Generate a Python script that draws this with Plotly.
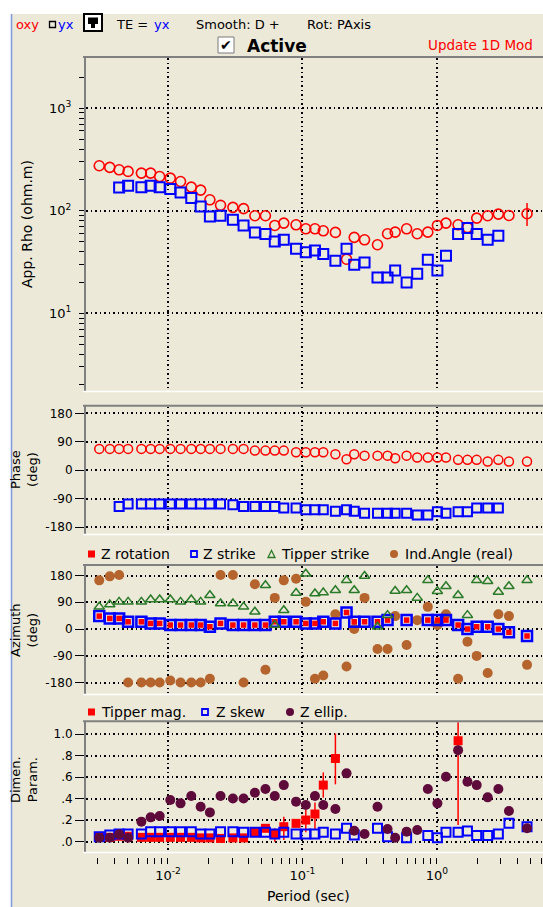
import plotly.graph_objects as go

# ---------------- data ----------------
periods = [0.00308, 0.00369, 0.00433, 0.00505, 0.00634, 0.00743, 0.00867, 0.0104, 0.0124, 0.0149,
           0.0175, 0.0205, 0.0246, 0.0304, 0.0365, 0.0443, 0.0531, 0.0623, 0.0727, 0.0897,
           0.106, 0.124, 0.143, 0.176, 0.213, 0.243, 0.290, 0.362, 0.430, 0.490,
           0.596, 0.715, 0.857, 1.01, 1.17, 1.44, 1.69, 1.98, 2.39, 2.87, 3.44, 4.69]

rho_xy = [275, 265, 251, 242, 233, 233, 216, 208, 193, 170, 159, 128, 113, 108, 105, 89.4, 89.4,
          71.9, 75.8, 73.0, 66.7, 66.7, 63.8, 61.5, 33.7, 55.0, 52.1, 46.6, 59.7, 61.9, 66.7,
          59.7, 61.9, 71.9, 75.8, 73.0, 68.7, 84.8, 89.4, 92.8, 90.0, 93.5]
rho_xy_err_plus = [0] * 41 + [25.5]
rho_xy_err_minus = [0] * 41 + [22.5]
rho_yx = [None, None, 169, 175, 170, 175, 170, 163, 151, 133, 110, 88.1, 89.4, 81.6, 71.9, 61.5,
          59.2, 50.2, 52.1, 42.6, 39.5, 41.0, 37.8, 32.5, 42.6, 29.7, 31.3, 22.4, 22.4, 26.2,
          20.0, 24.3, 33.3, 26.2, 36.4, 59.2, 67.8, 59.2, 52.1, 57.0, None, None]

phase_xy = [67.4, 67.4, 67.4, 67.4, 67.4, 67.4, 67.4, 67.4, 67.4, 67.4, 67.4, 67.4, 67.4, 67.4,
            67.4, 62.0, 62.0, 62.0, 62.0, 57.0, 57.0, 57.0, 57.0, 50.5, 34.7, 50.5, 46.0, 46.0,
            46.0, 37.9, 46.0, 40.0, 40.0, 40.0, 40.0, 32.6, 32.6, 32.6, 27.4, 32.6, 27.4, 27.4]
phase_yx = [None, None, -114.7, -107.4, -107.4, -107.4, -107.4, -107.4, -107.4, -107.4, -107.4,
            -107.4, -107.4, -109.5, -114.7, -114.7, -114.7, -114.7, -120.0, -120.0, -125.3,
            -125.3, -125.3, -130.5, -125.3, -130.5, -136.8, -136.8, -136.8, -136.8, -136.8,
            -142.1, -142.1, -131.6, -136.8, -131.6, -131.6, -120.0, -120.0, -120.0, None, None]

z_rotation = [43.5, 35.7, 35.7, 24.5, 24.5, 18.9, 18.9, 13.4, 13.4, 13.4, 13.4, 7.8, 18.9, 13.4,
              13.4, 13.4, 13.4, 24.5, 24.5, 24.5, 18.9, 18.9, 24.5, 18.9, 55.7, 24.5, 24.5, 24.5,
              30.1, None, 30.1, None, 30.1, 30.1, 30.1, 13.4, 0.0, 7.8, 7.8, 0.0, -11.1, -23.4]
z_strike = [43.5, 35.7, 35.7, 24.5, 24.5, 18.9, 18.9, 13.4, 13.4, 13.4, 13.4, 7.8, 18.9, 13.4,
            13.4, 13.4, 13.4, 24.5, 24.5, 24.5, 18.9, 18.9, 24.5, 18.9, 55.7, 24.5, 24.5, 24.5,
            30.1, None, 30.1, None, 30.1, 30.1, 30.1, 13.4, 0.0, 7.8, 7.8, 0.0, -11.1, -23.4]
tipper_strike = [74.7, 82.5, 91.4, 91.4, 91.4, 99.2, 99.2, 99.2, 91.4, 99.2, 91.4, 113.7, 85.8,
                 85.8, 74.7, 58.0, 147.0, 13.4, 63.5, 121.5, 186.0, 119.3, 122.6, 130.4, 163.8,
                 130.4, 178.3, 7.8, 46.8, 128.2, 130.4, 104.8, 163.8, 127.0, 143.8, 113.7, 46.8,
                 163.8, 160.5, 124.8, 143.8, 163.8]
ind_angle = [163.8, 177.2, 182.0, -179.5, -179.5, -179.5, -179.5, -172.8, -179.5, -179.5, -179.5,
             -167.0, 182.0, 182.0, -179.5, 150.5, -137.0, 104.8, 163.8, 169.4, 91.4, -167.0,
             -156.0, 50.0, -126.0, 0.0, 104.8, -66.9, -66.9, 43.5, -53.5, 30.0, 74.7, 13.4, 50.0,
             -167.0, -42.4, -90.3, -148.0, 50.0, 43.5, -120.4]

tipper_mag = [0.04, 0.04, 0.05, 0.05, 0.04, 0.04, 0.04, 0.04, 0.04, 0.04, 0.035, 0.035, 0.03,
              0.035, 0.035, 0.093, 0.124, 0.068, 0.139, 0.170, 0.201, 0.257, 0.526, 0.774,
              None, None, None, None, None, None, None, None, None, None, None, 0.938,
              None, None, None, None, None, None]
tipper_err_plus = [0] * 17 + [0.056, 0.093, 0, 0.093, 0.108, 0.118, 0.232] + [0] * 11 + [0.25] + [0] * 6
tipper_err_minus = [0] * 17 + [0.068, 0.124, 0, 0.114, 0.149, 0.117, 0.241] + [0] * 11 + [0.783] + [0] * 6
z_skew = [0.046, 0.062, 0.071, 0.071, 0.071, 0.093, 0.093, 0.093, 0.093, 0.093, 0.071, 0.071,
          0.093, 0.093, 0.087, 0.087, 0.087, 0.071, 0.087, 0.071, 0.071, 0.071, 0.087, 0.071,
          0.124, 0.062, None, 0.124, 0.046, None, 0.037, None, 0.056, 0.037, 0.087, 0.087,
          0.099, 0.056, 0.056, 0.071, 0.170, 0.139]
z_ellip = [0.037, 0.037, 0.068, 0.037, 0.186, 0.226, 0.238, 0.387, 0.356, 0.424, 0.325, 0.272,
           0.424, 0.402, 0.402, 0.455, 0.489, 0.424, 0.526, 0.372, 0.341, 0.424, 0.341, 0.303,
           0.635, 0.102, 0.071, 0.325, 0.118, 0.037, 0.093, 0.108, 0.489, 0.356, 0.604, 0.851,
           0.557, 0.526, 0.412, 0.489, 0.285, 0.124]

x_major = [0.01, 0.1, 1]
x_major_text = ['10<sup>-2</sup>', '10<sup>-1</sup>', '10<sup>0</sup>']
rho_major = [10, 100, 1000]
rho_major_text = ['10<sup>1</sup>', '10<sup>2</sup>', '10<sup>3</sup>']
angle_ticks = [-180, -90, 0, 90, 180]
angle_text = ['-180', '-90', '0', '90', '180']
dim_ticks = [0, 0.2, 0.4, 0.6, 0.8, 1.0]
dim_text = ['.0', '.2', '.4', '.6', '.8', '1.0']

# ---------------- layout helpers ----------------
W, H = 543, 907
FONT = "DejaVu Sans"
RED, BLUE, GREEN, BROWN, PURPLE = '#FF0000', '#0000FF', '#2A7A2A', '#B4642C', '#5E0B3B'
BEIGE = '#ECE9D8'
DOT = '1.5px,3px'


def fx(x):
    return x / W


def fy(y):
    return 1 - y / H


XL = 86
X_RANGE = [-2.61, 0.79]
P1, P2, P3, P4 = (58, 390), (406.7, 533), (566, 693), (722.3, 851)

x_minor = [m * 10 ** e for e in (-3, -2, -1, 0) for m in range(2, 10) if 0.0025 < m * 10 ** e < 6.1]
rho_minor = [m * 10 ** e for e in (0, 1, 2, 3) for m in range(2, 10) if 1.8 < m * 10 ** e < 3000]

fig = go.Figure()

# panel 1
fig.add_trace(go.Scatter(x=periods, y=rho_xy, mode='markers', xaxis='x', yaxis='y',
                         marker=dict(symbol='circle-open', size=10, color=RED, line=dict(width=1.6, color=RED)),
                         error_y=dict(type='data', symmetric=False, array=rho_xy_err_plus,
                                      arrayminus=rho_xy_err_minus, color=RED, thickness=1.5, width=0)))
fig.add_trace(go.Scatter(x=periods, y=rho_yx, mode='markers', xaxis='x', yaxis='y',
                         marker=dict(symbol='square-open', size=10, color=BLUE, line=dict(width=2, color=BLUE))))
# panel 2
fig.add_trace(go.Scatter(x=periods, y=phase_xy, mode='markers', xaxis='x2', yaxis='y2',
                         marker=dict(symbol='circle-open', size=9, color=RED, line=dict(width=1.5, color=RED))))
fig.add_trace(go.Scatter(x=periods, y=phase_yx, mode='markers', xaxis='x2', yaxis='y2',
                         marker=dict(symbol='square-open', size=9, color=BLUE, line=dict(width=2, color=BLUE))))
# panel 3
fig.add_trace(go.Scatter(x=periods, y=ind_angle, mode='markers', xaxis='x3', yaxis='y3',
                         marker=dict(symbol='circle', size=10, color=BROWN)))
fig.add_trace(go.Scatter(x=periods, y=z_strike, mode='markers', xaxis='x3', yaxis='y3',
                         marker=dict(symbol='square-open', size=10, color=BLUE, line=dict(width=2.5, color=BLUE))))
fig.add_trace(go.Scatter(x=periods, y=z_rotation, mode='markers', xaxis='x3', yaxis='y3',
                         marker=dict(symbol='square', size=5.5, color=RED)))
fig.add_trace(go.Scatter(x=periods, y=tipper_strike, mode='markers', xaxis='x3', yaxis='y3',
                         marker=dict(symbol='triangle-up-open', size=9, color=GREEN, line=dict(width=1.5, color=GREEN))))
# panel 4
fig.add_trace(go.Scatter(x=periods, y=tipper_mag, mode='markers', xaxis='x4', yaxis='y4',
                         marker=dict(symbol='square', size=9, color=RED),
                         error_y=dict(type='data', symmetric=False, array=tipper_err_plus,
                                      arrayminus=tipper_err_minus, color=RED, thickness=1.5, width=0)))
fig.add_trace(go.Scatter(x=periods, y=z_skew, mode='markers', xaxis='x4', yaxis='y4',
                         marker=dict(symbol='square-open', size=9, color=BLUE, line=dict(width=2, color=BLUE))))
fig.add_trace(go.Scatter(x=periods, y=z_ellip, mode='markers', xaxis='x4', yaxis='y4',
                         marker=dict(symbol='circle', size=10, color=PURPLE)))
# carrier for the period tick axis
fig.add_trace(go.Scatter(x=[periods[0]], y=[None], mode='markers', xaxis='x5', yaxis='y4',
                         hoverinfo='skip'))

grid = dict(showgrid=True, gridcolor='black', gridwidth=1.5, griddash=DOT, zeroline=False, showline=False)
xcommon = dict(type='log', range=X_RANGE, domain=[fx(XL), 1], tickvals=x_major,
               showticklabels=False, ticks='', **grid)
tickfont = dict(family=FONT, size=12, color='black')

fig.update_layout(
    width=W, height=H, autosize=False, showlegend=False,
    margin=dict(l=0, r=0, t=0, b=0),
    paper_bgcolor='white', plot_bgcolor='white',
    font=dict(family=FONT, size=13, color='black'),
    xaxis=dict(anchor='y', **xcommon),
    xaxis2=dict(anchor='y2', **xcommon),
    xaxis3=dict(anchor='y3', **xcommon),
    xaxis4=dict(anchor='y4', **xcommon),
    xaxis5=dict(type='log', range=X_RANGE, domain=[fx(XL), 1], overlaying='x4', anchor='free',
                position=fy(857), side='bottom', tickmode='array', tickvals=x_major, ticktext=x_major_text,
                ticks='outside', ticklen=6, tickwidth=1, tickcolor='black', showgrid=False,
                showline=False, zeroline=False, tickfont=dict(family=FONT, size=13, color='black'),
                minor=dict(tickmode='array', tickvals=x_minor, ticks='outside', ticklen=6,
                           tickcolor='black', showgrid=False)),
    yaxis=dict(anchor='x', type='log', domain=[fy(P1[1]), fy(P1[0])], range=[0.252, 3.49],
               tickmode='array', tickvals=rho_major, ticktext=rho_major_text, ticks='outside',
               ticklen=6, tickcolor='black', ticklabelstandoff=5,
               tickfont=dict(family=FONT, size=13, color='black'),
               minor=dict(tickmode='array', tickvals=rho_minor, ticks='outside', ticklen=6,
                          tickcolor='black', showgrid=False), **grid),
    yaxis2=dict(anchor='x2', domain=[fy(P2[1]), fy(P2[0])], range=[-199, 201], tickmode='array',
                tickvals=angle_ticks, ticktext=angle_text, ticks='outside', ticklen=10,
                tickcolor='black', tickfont=tickfont, **grid),
    yaxis3=dict(anchor='x3', domain=[fy(P3[1]), fy(P3[0])], range=[-215, 212], tickmode='array',
                tickvals=angle_ticks, ticktext=angle_text, ticks='outside', ticklen=10,
                tickcolor='black', tickfont=tickfont, **grid),
    yaxis4=dict(anchor='x4', domain=[fy(P4[1]), fy(P4[0])], range=[-0.087, 1.11], tickmode='array',
                tickvals=dim_ticks, ticktext=dim_text, ticks='outside', ticklen=10,
                tickcolor='black', tickfont=tickfont, **grid),
)

shapes = []
# window background
shapes.append(dict(type='rect', xref='paper', yref='paper', x0=fx(12), x1=1, y0=0, y1=fy(14),
                   fillcolor=BEIGE, line=dict(width=0), layer='below'))
shapes.append(dict(type='line', xref='paper', yref='paper', x0=fx(11.5), x1=fx(11.5), y0=0, y1=fy(14),
                   line=dict(color='#7F98DE', width=1.5)))
# panel frames
for top, bot in (P1, P2, P3, P4):
    shapes.append(dict(type='line', xref='paper', yref='paper', x0=fx(XL - 3), x1=1, y0=fy(top - 1), y1=fy(top - 1),
                       line=dict(color='#808080', width=2)))
    shapes.append(dict(type='line', xref='paper', yref='paper', x0=fx(XL - 1), x1=fx(XL - 1), y0=fy(bot + 1),
                       y1=fy(top - 1), line=dict(color='#808080', width=2)))
    shapes.append(dict(type='line', xref='paper', yref='paper', x0=fx(XL - 3), x1=1, y0=fy(bot + 1.5), y1=fy(bot + 1.5),
                       line=dict(color='white', width=1.5)))
# header icons
shapes.append(dict(type='rect', xref='paper', yref='paper', x0=fx(49.5), x1=fx(55.5), y0=fy(27.5), y1=fy(21.5),
                   line=dict(color='black', width=1.3)))
shapes.append(dict(type='rect', xref='paper', yref='paper', x0=fx(84), x1=fx(102), y0=fy(31), y1=fy(14),
                   fillcolor='white', line=dict(color='black', width=2)))
shapes.append(dict(type='rect', xref='paper', yref='paper', x0=fx(88), x1=fx(98), y0=fy(24), y1=fy(17.5),
                   fillcolor='black', line=dict(width=0)))
shapes.append(dict(type='rect', xref='paper', yref='paper', x0=fx(91), x1=fx(95), y0=fy(28), y1=fy(24),
                   fillcolor='black', line=dict(width=0)))
shapes.append(dict(type='rect', xref='paper', yref='paper', x0=fx(218), x1=fx(234), y0=fy(53), y1=fy(37),
                   fillcolor='white', line=dict(color='#7A7A7A', width=1)))
# legend symbols panel 3
ly3, ly4 = 554, 712
shapes.append(dict(type='rect', xref='paper', yref='paper', x0=fx(88), x1=fx(95), y0=fy(ly3 + 3.5), y1=fy(ly3 - 3.5),
                   fillcolor=RED, line=dict(width=0)))
shapes.append(dict(type='rect', xref='paper', yref='paper', x0=fx(191), x1=fx(197), y0=fy(ly3 + 3), y1=fy(ly3 - 3),
                   line=dict(color=BLUE, width=1.8)))
shapes.append(dict(type='path', xref='paper', yref='paper',
                   path=f"M {fx(268)} {fy(ly3 + 3.5)} L {fx(275)} {fy(ly3 + 3.5)} L {fx(271.5)} {fy(ly3 - 3.5)} Z",
                   line=dict(color=GREEN, width=1.3)))
shapes.append(dict(type='circle', xref='paper', yref='paper', x0=fx(390), x1=fx(398), y0=fy(ly3 + 4), y1=fy(ly3 - 4),
                   fillcolor=BROWN, line=dict(width=0)))
# legend symbols panel 4
shapes.append(dict(type='rect', xref='paper', yref='paper', x0=fx(88), x1=fx(95), y0=fy(ly4 + 3.5), y1=fy(ly4 - 3.5),
                   fillcolor=RED, line=dict(width=0)))
shapes.append(dict(type='rect', xref='paper', yref='paper', x0=fx(202), x1=fx(208), y0=fy(ly4 + 3), y1=fy(ly4 - 3),
                   line=dict(color=BLUE, width=1.8)))
shapes.append(dict(type='circle', xref='paper', yref='paper', x0=fx(286), x1=fx(294), y0=fy(ly4 + 4), y1=fy(ly4 - 4),
                   fillcolor=PURPLE, line=dict(width=0)))
fig.update_layout(shapes=shapes)

ann = []


def text(x, y, s, color='black', size=13, xanchor='left', bold=False, angle=0):
    ann.append(dict(xref='paper', yref='paper', x=fx(x), y=fy(y), text=f"<b>{s}</b>" if bold else s,
                    showarrow=False, xanchor=xanchor, yanchor='middle', textangle=angle,
                    font=dict(family=FONT, size=size, color=color)))


# header
text(14, 24, 'oxy', RED)
text(56, 24, 'yx', BLUE)
text(114, 24, 'TE =')
text(152, 24, 'yx', BLUE)
text(194, 24, 'Smooth: D +')
text(305, 24, 'Rot: PAxis')
text(226, 45, '✔', size=14, xanchor='center')
text(245, 46, 'Active', size=17, bold=True)
text(426, 45, 'Update 1D Mod', RED, size=13.5)
# axis titles
text(27, 224, 'App. Rho (ohm.m)', size=14, xanchor='center', angle=-90)
text(24, 470, 'Phase<br>(deg)', size=13, xanchor='center', angle=-90)
text(24, 630, 'Azimuth<br>(deg)', size=13, xanchor='center', angle=-90)
text(24, 780, 'Dimen.<br>Param.', size=13, xanchor='center', angle=-90)
# legends
text(99, ly3, 'Z rotation', size=14)
text(201, ly3, 'Z strike', size=14)
text(279, ly3, 'Tipper strike', size=14)
text(403, ly3, 'Ind.Angle (real)', size=14)
text(99, ly4, 'Tipper mag.', size=14)
text(214, ly4, 'Z skew', size=14)
text(298, ly4, 'Z ellip.', size=14)
# x title
ann.append(dict(xref='paper', yref='paper', x=fx(308), y=fy(906), text='Period (sec)', showarrow=False,
                xanchor='center', yanchor='bottom', font=dict(family=FONT, size=14, color='black')))
fig.update_layout(annotations=ann)

fig.write_html("out.html", config={'displayModeBar': False},
               post_script="document.body.style.margin='0';document.body.style.padding='0';"
                           "document.body.style.overflow='hidden';")
